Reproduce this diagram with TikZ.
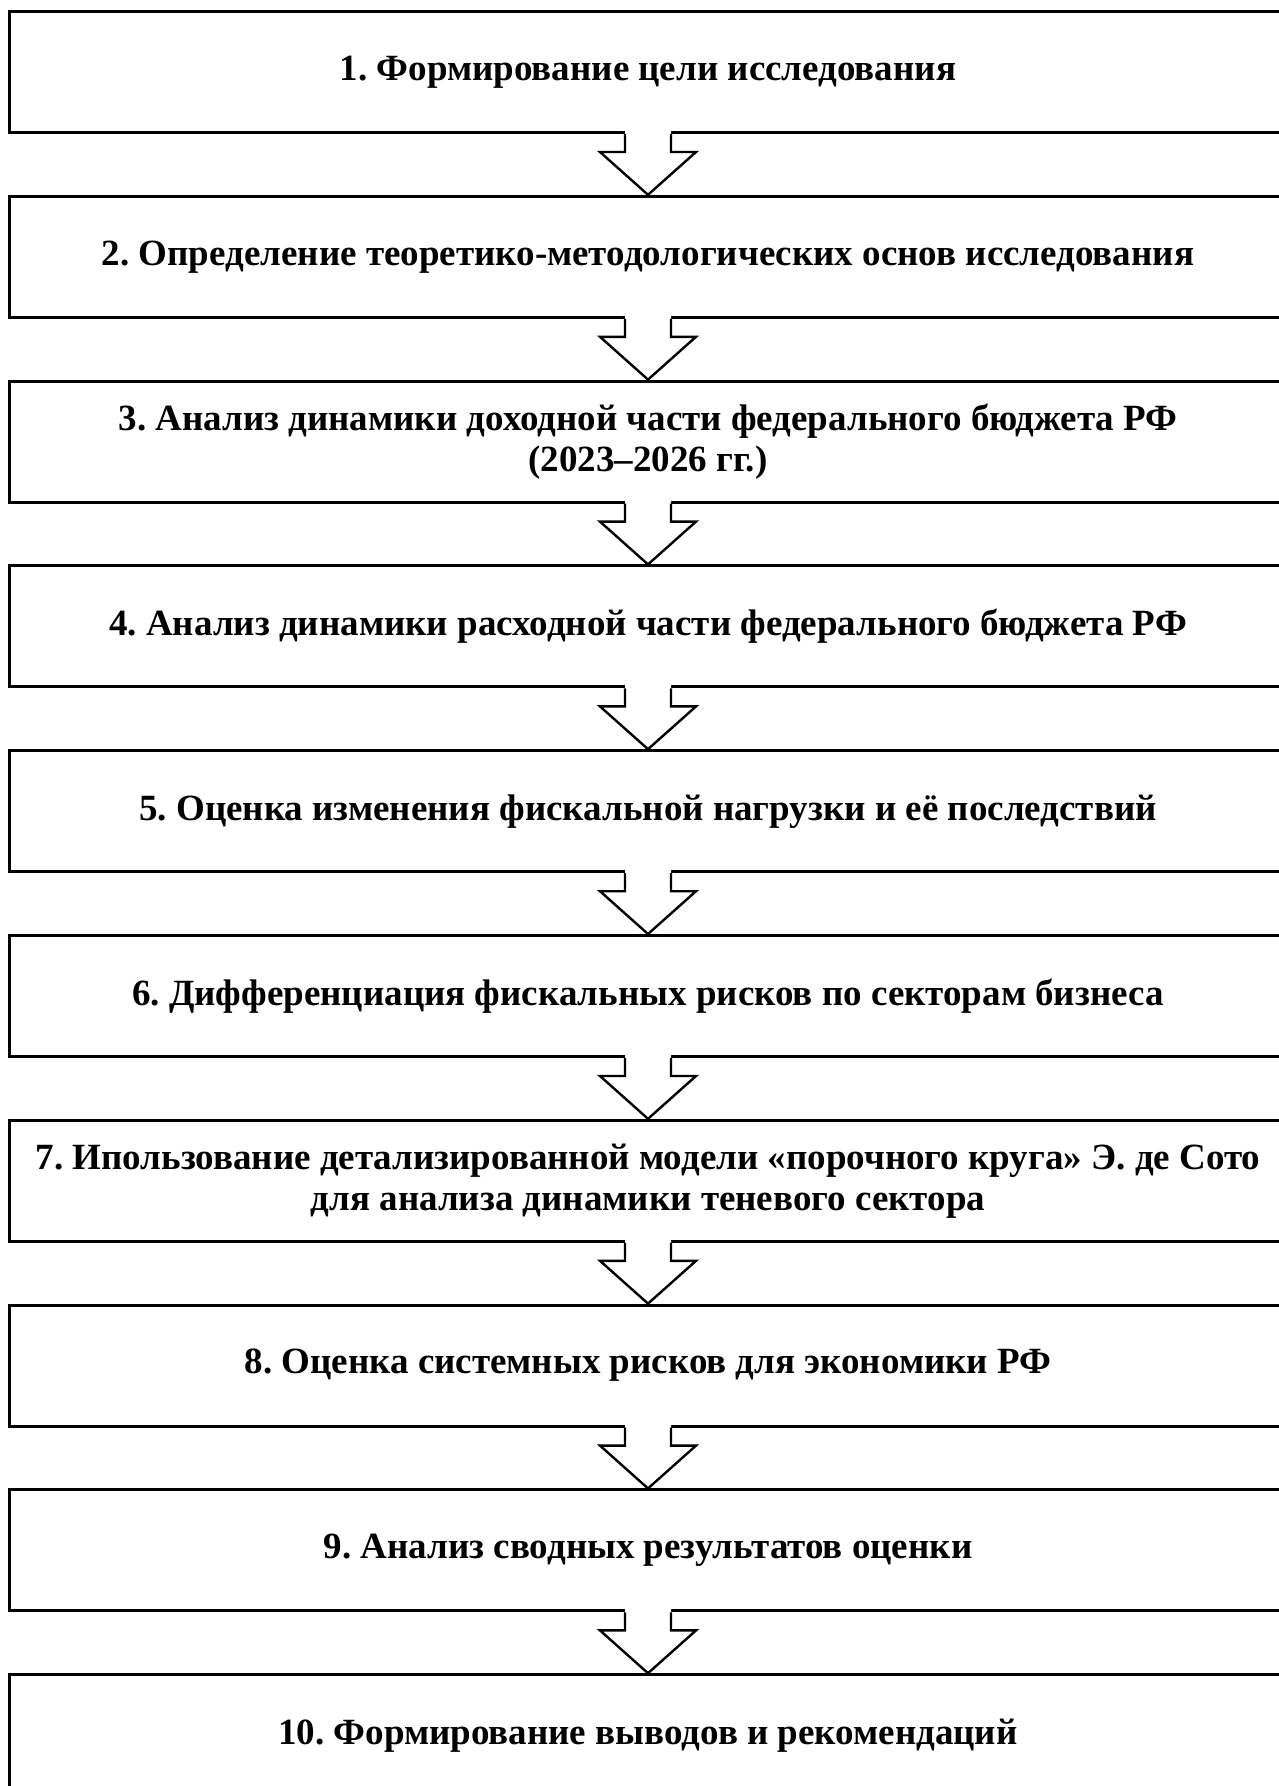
\documentclass[tikz,border=0pt]{standalone}
\usepackage{fontspec}
\setmainfont{Liberation Serif}
\usetikzlibrary{calc}
\frenchspacing
\tikzset{
  stagebox/.style={draw=black, line width=3pt, fill=white, rectangle,
    minimum width=1278pt, minimum height=121pt, inner sep=0pt,
    align=center, anchor=north,
    font=\fontsize{37pt}{41pt}\selectfont\bfseries},
  arrowline/.style={draw=black, line width=2.4pt, line join=miter},
}
\newcommand{\stagearrow}[2]{%
  \fill[white] ($(#1.south)+(-23,3.5)$) -- ($(#1.south)+(-23,-18)$) -- ($(#1.south)+(-48,-18)$) -- (#2.north) -- ($(#1.south)+(48,-18)$) -- ($(#1.south)+(23,-18)$) -- ($(#1.south)+(23,3.5)$) -- cycle;
  \draw[arrowline] ($(#1.south)+(-23,0)$) -- ($(#1.south)+(-23,-18)$) -- ($(#1.south)+(-48,-18)$) -- (#2.north) -- ($(#1.south)+(48,-18)$) -- ($(#1.south)+(23,-18)$) -- ($(#1.south)+(23,0)$);
}
\begin{document}
\frenchspacing
\begin{tikzpicture}[x=1pt,y=1pt]
\useasboundingbox (0,0) rectangle (1279,-1786);
\fill[white] (0,0) rectangle (1279,-1786);
\node[stagebox] (b1) at (648,-10) {1. Формирование цели исследования};
\node[stagebox] (b2) at (648,-194.8) {2. Определение теоретико-методологических основ исследования};
\node[stagebox] (b3) at (648,-379.6) {3. Анализ динамики доходной части федерального бюджета РФ\\(2023–2026 гг.)};
\node[stagebox] (b4) at (648,-564.4) {4. Анализ динамики расходной части федерального бюджета РФ};
\node[stagebox] (b5) at (648,-749.2) {5. Оценка изменения фискальной нагрузки и её последствий};
\node[stagebox] (b6) at (648,-934) {6. Дифференциация фискальных рисков по секторам бизнеса};
\node[stagebox] (b7) at (648,-1118.8) {7. Ипользование детализированной модели «порочного круга» Э. де Сото\\для анализа динамики теневого сектора};
\node[stagebox] (b8) at (648,-1303.6) {8. Оценка системных рисков для экономики РФ};
\node[stagebox] (b9) at (648,-1488.4) {9. Анализ сводных результатов оценки};
\node[stagebox] (b10) at (648,-1673.2) {10. Формирование выводов и рекомендаций};
\stagearrow{b1}{b2}
\stagearrow{b2}{b3}
\stagearrow{b3}{b4}
\stagearrow{b4}{b5}
\stagearrow{b5}{b6}
\stagearrow{b6}{b7}
\stagearrow{b7}{b8}
\stagearrow{b8}{b9}
\stagearrow{b9}{b10}
\end{tikzpicture}
\end{document}
